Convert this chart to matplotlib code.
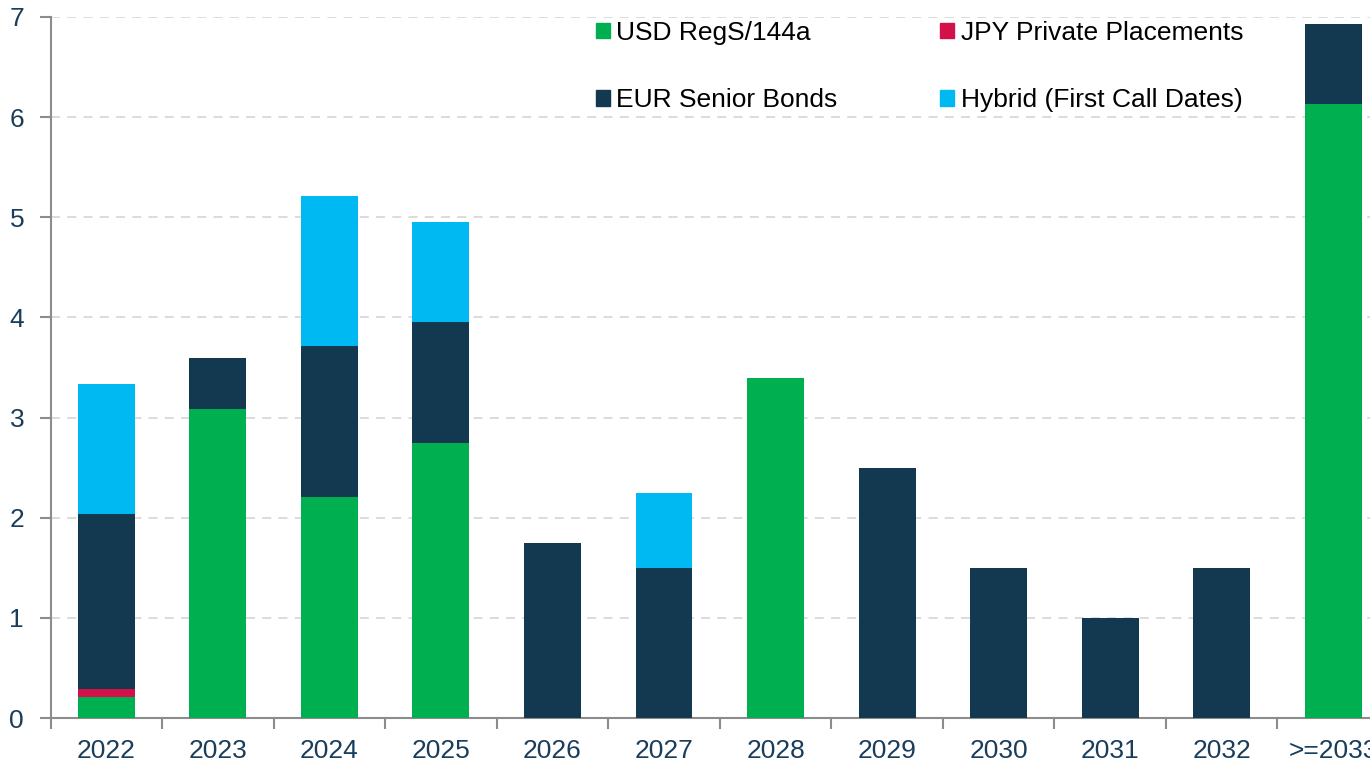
import matplotlib
matplotlib.use("Agg")
import matplotlib.pyplot as plt
from matplotlib.patches import Patch
import numpy as np

plt.rcParams['font.family'] = ['Liberation Sans', 'DejaVu Sans']

# maturity buckets
years = ["2022", "2023", "2024", "2025", "2026", "2027", "2028",
         "2029", "2030", "2031", "2032", ">=2033"]

# amounts per instrument
usd = [0.21, 3.09, 2.21, 2.75, 0, 0, 3.40, 0, 0, 0, 0, 6.13]
jpy = [0.08, 0, 0, 0, 0, 0, 0, 0, 0, 0, 0, 0]
eur = [1.75, 0.50, 1.50, 1.20, 1.75, 1.50, 0, 2.50, 1.50, 1.00, 1.50, 0.80]
hybrid = [1.30, 0, 1.50, 1.00, 0, 0.75, 0, 0, 0, 0, 0, 0]

labels = ["USD RegS/144a", "JPY Private Placements",
          "EUR Senior Bonds", "Hybrid (First Call Dates)"]
colors = ["#00AF50", "#D4104A", "#12394F", "#00B9F2"]

fig = plt.figure(figsize=(13.7, 7.62), dpi=100)
# axes spills past the right edge, like the original export
ax = fig.add_axes([50.5 / 1370, (762 - 718) / 762, 1338.5 / 1370, 701 / 762])

x = np.arange(len(years))
w = 0.51
bottom = np.zeros(len(years))
for vals, col in zip([usd, jpy, eur, hybrid], colors):
    ax.bar(x, vals, w, bottom=bottom, color=col, zorder=3)
    bottom += np.array(vals)

ax.set_xlim(-0.5, len(years) - 0.5)
ax.set_ylim(0, 7)
ax.set_yticks(range(8))
ax.yaxis.grid(True, color="#D9D9D9", linestyle=(0, (5, 4)), linewidth=1.3, zorder=0)

# ticks between categories on the x axis, labels centred under bars
ax.set_xticks(np.arange(-0.5, len(years)), minor=False)
ax.set_xticklabels([])
ax.set_xticks(x, minor=True)
ax.set_xticklabels(years, minor=True)
ax.tick_params(axis="x", which="minor", length=0, pad=15)
ax.tick_params(axis="x", which="major", length=8, width=1.5, color="#8C8C8C")
ax.tick_params(axis="y", length=8, width=1.5, color="#8C8C8C", pad=11)
ax.tick_params(labelsize=19, labelcolor="#1A3D5C", which="both")

for s in ["top", "right"]:
    ax.spines[s].set_visible(False)
for s in ["left", "bottom"]:
    ax.spines[s].set_color("#8C8C8C")
    ax.spines[s].set_linewidth(1.5)

handles = [Patch(color=c) for c in colors]
order = [0, 2, 1, 3]
fig.legend([handles[i] for i in order], [labels[i] for i in order],
           ncol=2, loc="upper left", bbox_to_anchor=(596 / 1370, 1 - 21 / 762),
           frameon=False, fontsize=19, handlelength=0.52, handleheight=0.52,
           handletextpad=0.25, columnspacing=3.9, labelspacing=1.64,
           borderpad=0, borderaxespad=0)

fig.savefig("out.png", dpi=100)
